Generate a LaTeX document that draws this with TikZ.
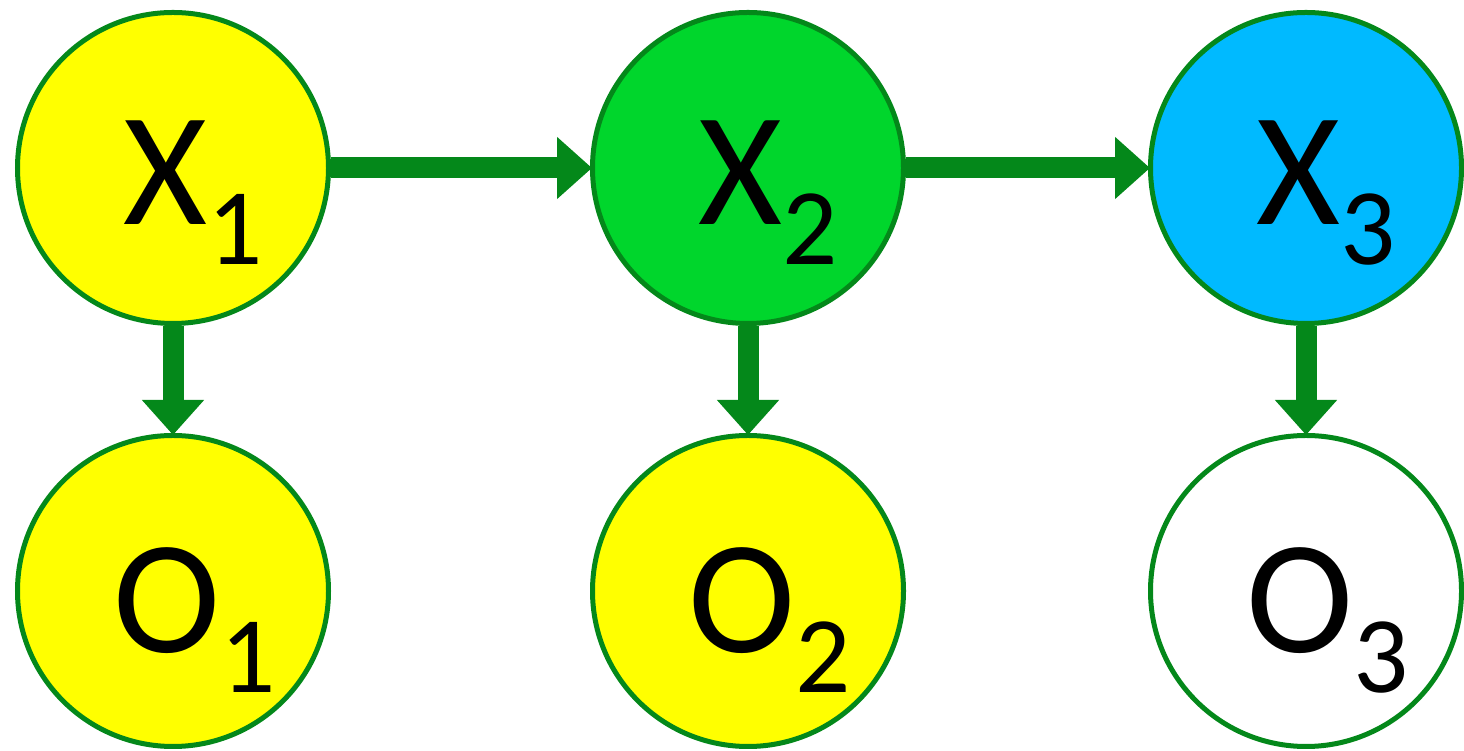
\documentclass[tikz,border=0pt]{standalone}
\usepackage{fontspec}
\setmainfont{Carlito}
\usetikzlibrary{arrows.meta,positioning}
\definecolor{edgegreen}{RGB}{4,136,26}
\definecolor{hidgreen}{RGB}{0,214,44}
\definecolor{hidblue}{RGB}{0,186,255}
\definecolor{obsyellow}{RGB}{255,255,0}
\newcommand{\varlbl}[2]{{\fontsize{46}{46}\selectfont #1\raisebox{-0.4cm}{\fontsize{31}{31}\selectfont #2}}}

\begin{document}
\begin{tikzpicture}[
  var/.style={circle,draw=edgegreen,line width=0.05cm,minimum size=3.11cm,inner sep=0pt},
  link/.style={edgegreen,line width=0.21cm,-{Triangle[width=0.6cm,length=0.35cm]},shorten >=-0.02cm}
]
\useasboundingbox (0,0) rectangle (14.64,7.51);
% Hidden chain
\node[var,fill=obsyellow] (x1) at (1.73,5.83) {};
\node[var,fill=hidgreen] (x2) at (7.48,5.83) {};
\node[var,fill=hidblue] (x3) at (13.06,5.83) {};
% Observations
\node[var,fill=obsyellow] (o1) at (1.73,1.60) {};
\node[var,fill=obsyellow] (o2) at (7.48,1.60) {};
\node[var,fill=white] (o3) at (13.06,1.60) {};
\node[xshift=0.2cm,yshift=-0.25cm] (tx1) at (x1) {\varlbl{X}{1}};
\node[xshift=0.2cm,yshift=-0.25cm] (tx2) at (x2) {\varlbl{X}{2}};
\node[xshift=0.2cm,yshift=-0.25cm] (tx3) at (x3) {\varlbl{X}{3}};
\node[xshift=0.22cm,yshift=-0.29cm] (to1) at (o1) {\varlbl{O}{1}};
\node[xshift=0.22cm,yshift=-0.29cm] (to2) at (o2) {\varlbl{O}{2}};
\node[xshift=0.22cm,yshift=-0.29cm] (to3) at (o3) {\varlbl{O}{3}};
\draw[link] (x1) -- (x2);
\draw[link] (x2) -- (x3);
\draw[link] (x1) -- (o1);
\draw[link] (x2) -- (o2);
\draw[link] (x3) -- (o3);
\end{tikzpicture}
\end{document}
